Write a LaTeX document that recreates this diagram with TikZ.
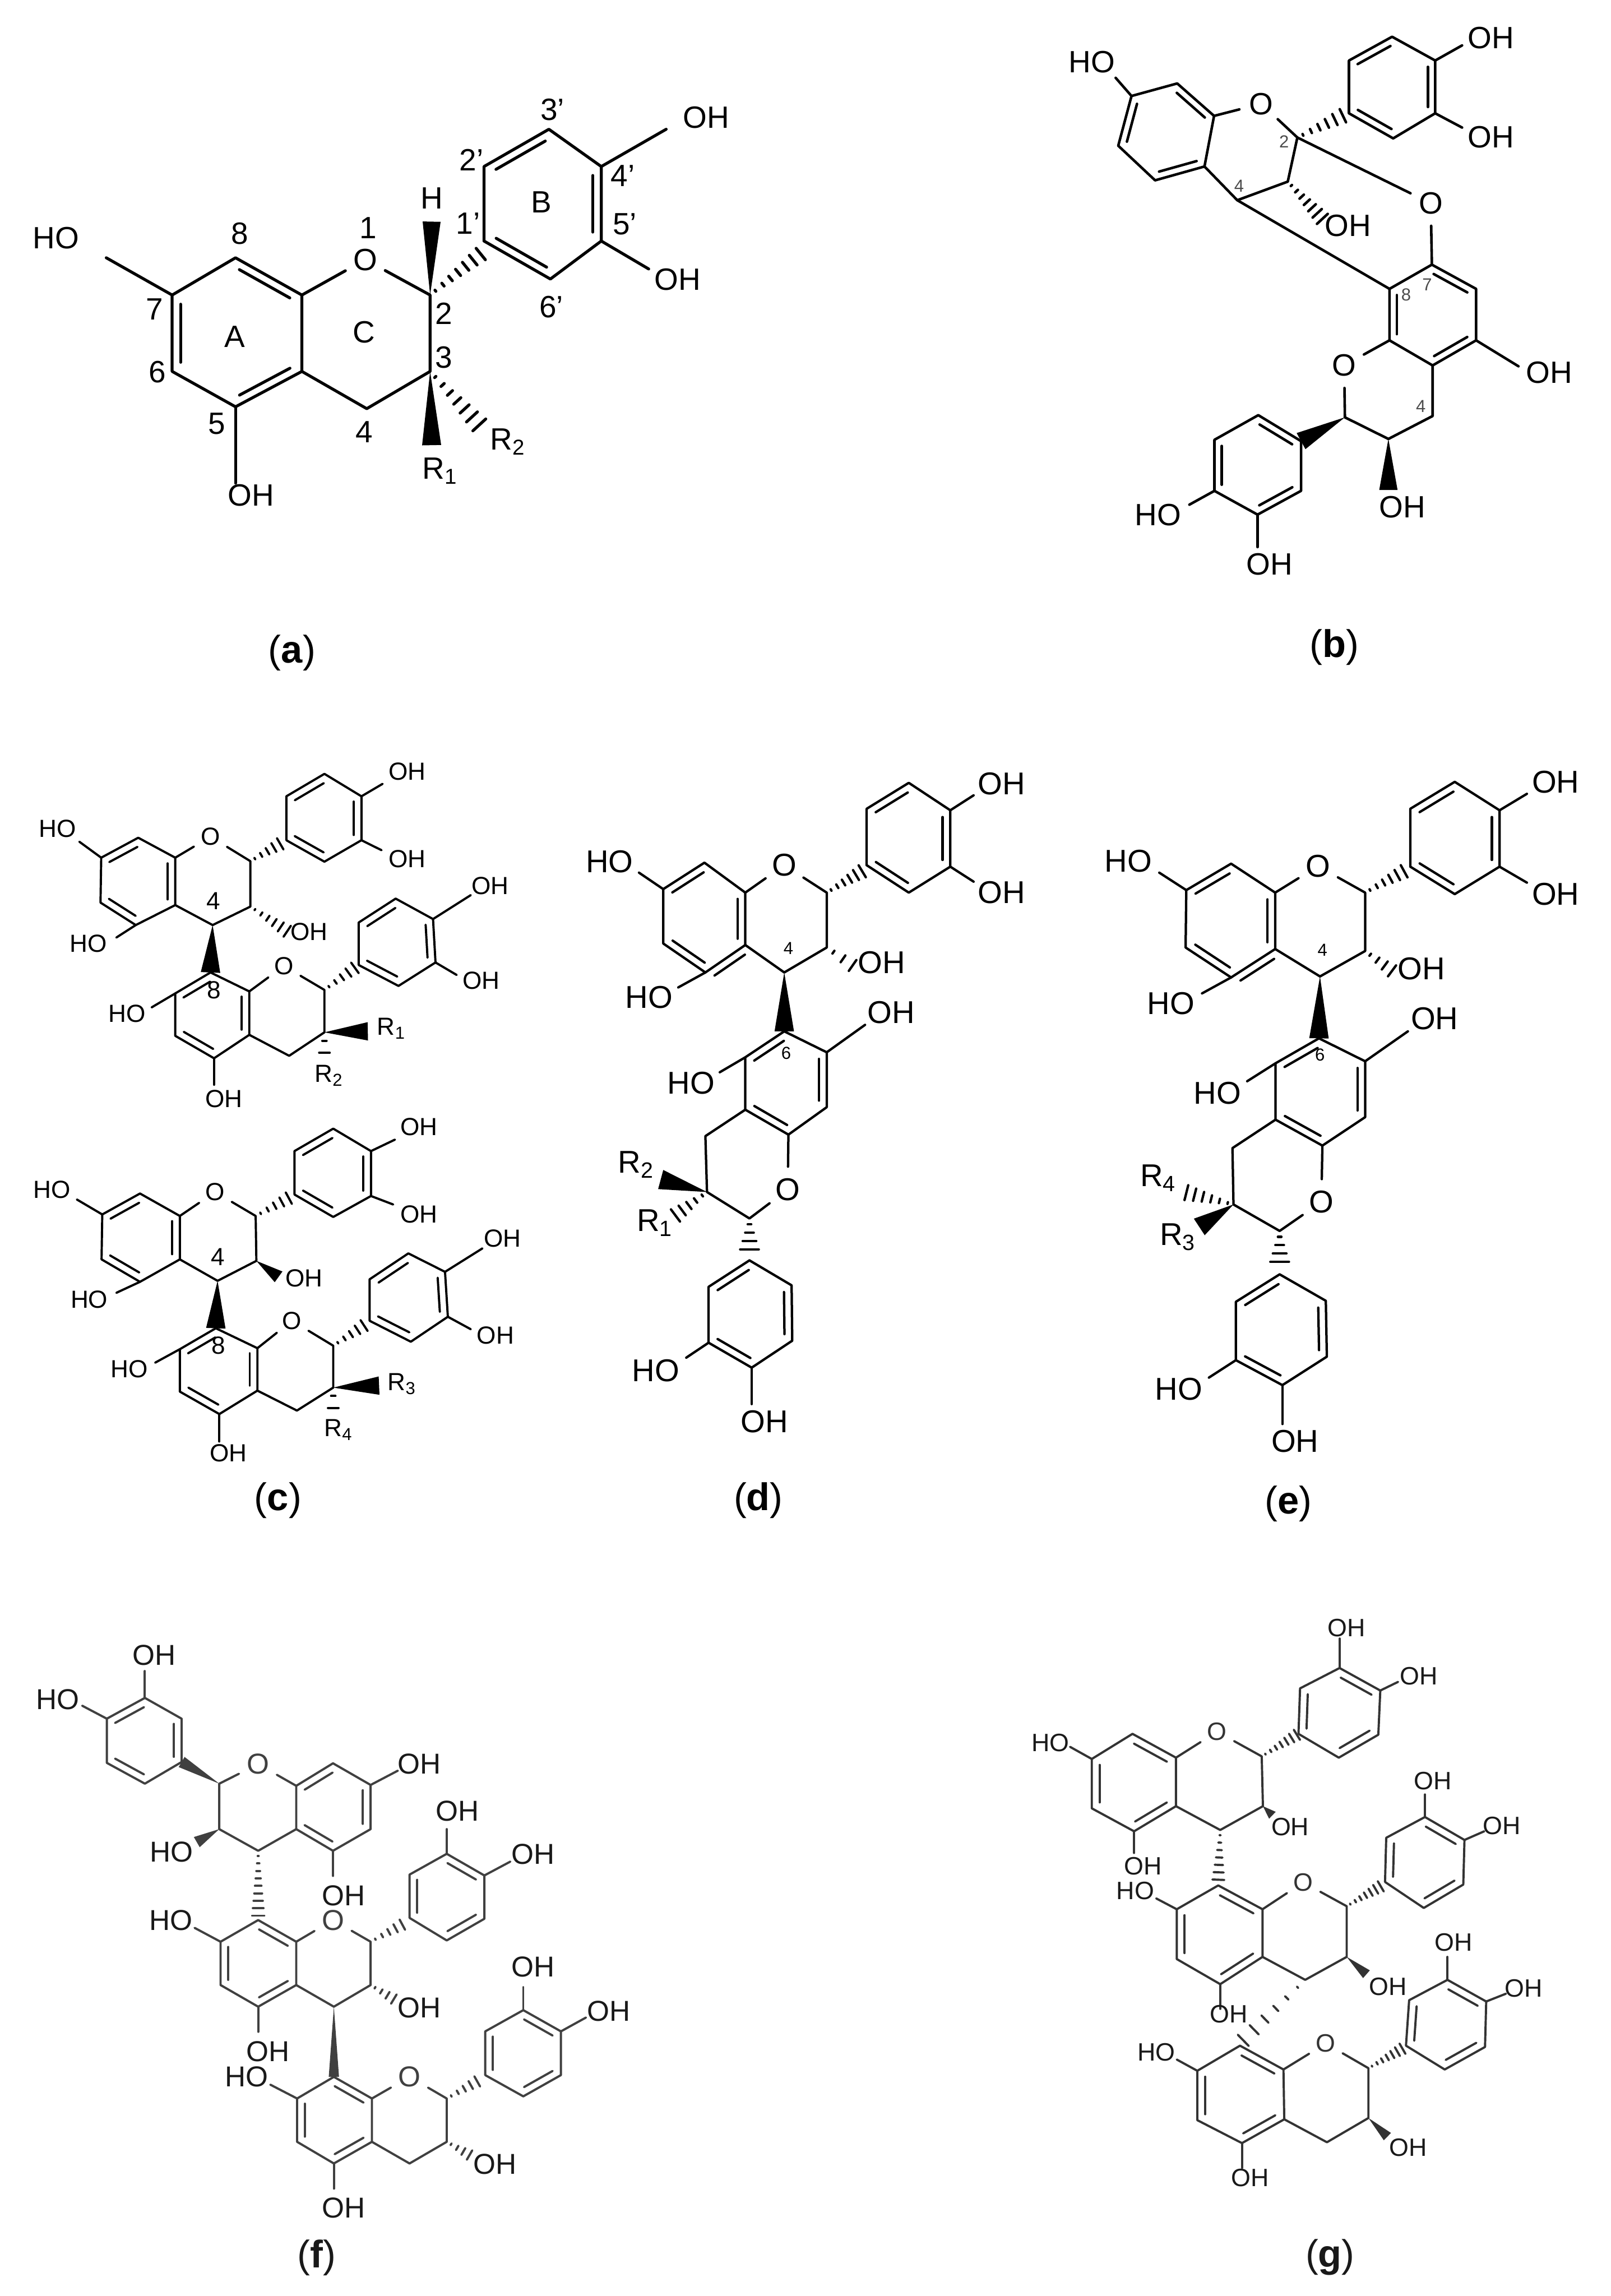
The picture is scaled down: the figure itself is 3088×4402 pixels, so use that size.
\documentclass[tikz,border=0pt]{standalone}
\usepackage{fontspec}
\usetikzlibrary{calc}
\setmainfont{Liberation Sans}
\newcommand{\fontA}{\fontsize{16.8pt}{17pt}\selectfont}
\newcommand{\fontC}{\fontsize{13.5pt}{14pt}\selectfont}
\newcommand{\fontD}{\fontsize{17.2pt}{18pt}\selectfont}
\newcommand{\fontF}{\fontsize{15.7pt}{16pt}\selectfont}
\newcommand{\fontG}{\fontsize{13.7pt}{14pt}\selectfont}
\tikzset{
	bond/.style={line cap=round, line join=round},
	lab/.style={inner sep=0pt},
	oxy/.style={circle, inner sep=2pt},
	tag/.style={inner sep=0pt, font=\fontsize{9.5pt}{10pt}\selectfont},
	captext/.style={inner sep=0pt, font=\fontsize{21pt}{22pt}\selectfont},
	mol/.style n args={5}{shift={(#1,#2)}, x=#3, y=-#4, line width=#5},
}
\newlength{\dgap}
% inner stroke of a double bond, on the left of the way a to b
\newcommand{\dbl}[1]{
	\foreach \a/\b in {#1} {
		\draw[bond] ($(\a)!.12!(\b)!\dgap!90:(\b)$) -- ($(\b)!.12!(\a)!\dgap!-90:(\a)$);
	}
}
\newcommand{\wedgebond}[3]{\fill (#1) -- ($(#2)!#3!90:(#1)$) -- ($(#2)!#3!-90:(#1)$) -- cycle;}
\newcommand{\hashbond}[4]{
	\foreach \i in {1,...,#4} {
		\pgfmathsetmacro\fr{(\i-0.3)/#4}
		\pgfmathsetmacro\hw{\fr*#3}
		\coordinate (hm) at ($(#1)!\fr!(#2)$);
		\draw[bond] ($(hm)!\hw pt!90:(#2)$) -- ($(hm)!\hw pt!-90:(#2)$);
	}
}
\begin{document}
\begin{tikzpicture}[x=0.1mm, y=-0.1mm]
	\useasboundingbox (0,0) rectangle (3088,4402);

	% flavan unit
	\begin{scope}[mol={0}{180}{0.09567mm}{0.07143mm}{1.6pt}, name prefix=a, every node/.style={font=\fontA}]
		\setlength{\dgap}{4.6pt}
		\foreach \n/\px/\py in {c7/345/540,c8/472/440,c8a/605/540,c4a/605/745,c5/472/840,c6/345/745,c2/862/540,c3/862/745,c4/735/845,p1/970/395,p2/970/195,p3/1100/95,p4/1205/195,p5/1205/395,p6/1103/497,t7/213/440,t5/472/1045,t4/1335/95,t3/1300/470,w1/865/343,w2/865/943,h1/968/425,h2/965/895}
			\coordinate (\n) at (\px,\py);
		\node[oxy] (O) at (732,445) {O};
		\draw[bond] (t7) -- (c7) -- (c8) -- (c8a) -- (c4a) -- (c5) -- (c6) -- (c7);
		\draw[bond] (c8a) -- (O) -- (c2) -- (c3) -- (c4) -- (c4a);
		\draw[bond] (c5) -- (t5);
		\draw[bond] (p1) -- (p2) -- (p3) -- (p4) -- (p5) -- (p6) -- (p1);
		\draw[bond] (p4) -- (t4);
		\draw[bond] (p5) -- (t3);
		\dbl{c7/c6,c5/c4a,c8a/c8,p3/p2,p1/p6,p5/p4}
		\wedgebond{c2}{w1}{4.9pt}
		\wedgebond{c3}{w2}{5.2pt}
		\hashbond{c2}{h1}{4.2}{7}
		\hashbond{c3}{h2}{5}{7}
		\foreach \n/\px/\py/\s in {l1/112/387/HO,l2/1415/63/OH,l3/1358/498/OH,l4/503/1078/OH,H/865/280/H,n8/480/375/8,n1/738/360/1,n1p/938/348/1',n2p/945/178/2',n3p/1107/42/3',n4p/1248/220/4',n5p/1252/350/5',n6p/1105/572/6',n2/890/590/2,n3/890/708/3,rC/730/640/C,rA/470/652/A,rB/1085/290/B,n7/310/578/7,n6/315/747/6,n5/435/885/5,n4/730/908/4}
			\node[lab] (\n) at (\px,\py) {\s};
		\node[lab] (R1) at (882,1012) {R\textsubscript{1}};
		\node[lab] (R2) at (1018,934) {R\textsubscript{2}};
		\node[captext] (cap) at (585,1500) {(\textbf{a})};
	\end{scope}

	% bridged dimer
	\begin{scope}[mol={1980}{0}{0.07066mm}{0.08291mm}{1.4pt}, name prefix=b, every node/.style={font=\fontA}]
		\setlength{\dgap}{4pt}
		\foreach \n/\px/\py in {c7/268/222,c8/392/193,c8a/492/268,c4a/466/385,c5/332/417,c6/232/337,c2/718/318,c3/692/420,c4/555/463,p1/858/262,p2/858/140,p3/975/85,p4/1092/140,p5/1092/262,p6/978/320,t1/225/180,t2/1165/105,t3/1165/295,k7/1083/612,k8/968/668,k8a/968/787,k4a/1085/845,k5/1203/787,k6/1203/668,k2/847/965,k3/965/1015,k4/1085/962,q1/728/1020,q2/612/960,q3/493/1017,q4/493/1135,q5/610/1190,q6/728/1135,t4/1318/847,t5/425/1167,t6/610/1265,h1/848/265,h2/790/510,w1/965/1133}
			\coordinate (\n) at (\px,\py);
		\node[oxy] (O1) at (620,240) {O};
		\node[oxy] (O2) at (1080,470) {O};
		\node[oxy] (O3) at (845,845) {O};
		\draw[bond] (t1) -- (c7) -- (c8) -- (c8a) -- (c4a) -- (c5) -- (c6) -- (c7);
		\draw[bond] (c8a) -- (O1) -- (c2) -- (c3) -- (c4) -- (c4a);
		\draw[bond] (p1) -- (p2) -- (p3) -- (p4) -- (p5) -- (p6) -- (p1);
		\draw[bond] (p4) -- (t2);
		\draw[bond] (p5) -- (t3);
		\draw[bond] (c2) -- (O2) -- (k7);
		\draw[bond] (c4) -- (k8);
		\draw[bond] (k7) -- (k8) -- (k8a) -- (k4a) -- (k5) -- (k6) -- (k7);
		\draw[bond] (k8a) -- (O3) -- (k2) -- (k3) -- (k4) -- (k4a);
		\draw[bond] (k5) -- (t4);
		\draw[bond] (q1) -- (q2) -- (q3) -- (q4) -- (q5) -- (q6) -- (q1);
		\draw[bond] (q4) -- (t5);
		\draw[bond] (q5) -- (t6);
		\dbl{c7/c6,c5/c4a,c8a/c8,p3/p2,p1/p6,p5/p4,k8/k8a,k4a/k5,k6/k7,q1/q2,q3/q4,q5/q6}
		\wedgebond{k2}{q1}{5pt}
		\wedgebond{k3}{w1}{5pt}
		\hashbond{c2}{h1}{4.2}{6}
		\hashbond{c3}{h2}{4.2}{7}
		\foreach \n/\px/\py/\s in {l1/160/143/HO,l2/1243/87/OH,l3/1243/317/OH,l4/855/522/OH,l5/1402/862/OH,l6/340/1190/HO,l7/642/1305/OH,l8/1003/1173/OH}
			\node[lab] (\n) at (\px,\py) {\s};
		\foreach \n/\px/\py/\s in {n2/682/327/2,n4/560/430/4,n8/1013/682/8,n7/1070/658/7,m4/1053/940/4}
			\node[tag, text=black!70] (\n) at (\px,\py) {\s};
		\node[captext] (cap) at (818,1497) {(\textbf{b})};
	\end{scope}

	% 4-8 dimer, upper one
	\begin{scope}[mol={0}{1300}{0.06761mm}{0.09567mm}{1.2pt}, name prefix=c, every node/.style={font=\fontC}]
		\setlength{\dgap}{4.2pt}
		\foreach \n/\px/\py in {c7/287/360,c8/392/320,c8a/497/360,c4a/497/455,c5/385/495,c6/285/450,c2/710/367,c3/710/458,c4/603/495,p1/812/325,p2/812/237,p3/920/192,p4/1025/237,p5/1025/325,p6/920/368,t1/225/328,t2/330/520,t3/1085/212,t4/1082/345,k8/597/590,k8a/707/628,k4a/707/715,k5/607/762,k6/497/717,k7/497/632,k2/920/625,k3/920/710,k4/820/757,t5/430/660,t6/607/815,q1/1017/575,q2/1017/490,q3/1122/442,q4/1228/483,q5/1235/570,q6/1130/617,t7/1335/435,t8/1295/595,h1/800/330,h2/820/510,h3/1012/578,h4/920/758,w1/1043/708}
			\coordinate (\n) at (\px,\py);
		\node[oxy] (O1) at (597,318) {O};
		\node[oxy] (O2) at (805,577) {O};
		\draw[bond] (t1) -- (c7) -- (c8) -- (c8a) -- (c4a) -- (c5) -- (c6) -- (c7);
		\draw[bond] (c5) -- (t2);
		\draw[bond] (c8a) -- (O1) -- (c2) -- (c3) -- (c4) -- (c4a);
		\draw[bond] (p1) -- (p2) -- (p3) -- (p4) -- (p5) -- (p6) -- (p1);
		\draw[bond] (p4) -- (t3);
		\draw[bond] (p5) -- (t4);
		\draw[bond] (t5) -- (k7) -- (k8) -- (k8a) -- (k4a) -- (k5) -- (k6) -- (k7);
		\draw[bond] (k5) -- (t6);
		\draw[bond] (k8a) -- (O2) -- (k2) -- (k3) -- (k4) -- (k4a);
		\draw[bond] (q1) -- (q2) -- (q3) -- (q4) -- (q5) -- (q6) -- (q1);
		\draw[bond] (q4) -- (t7);
		\draw[bond] (q5) -- (t8);
		\dbl{c8/c7,c6/c5,c4a/c8a,p3/p2,p1/p6,p5/p4,k8/k7,k6/k5,k4a/k8a,q3/q2,q1/q6,q5/q4}
		\wedgebond{c4}{k8}{5.3pt}
		\wedgebond{k3}{w1}{5pt}
		\hashbond{c2}{h1}{3.8}{5}
		\hashbond{c3}{h2}{3.8}{6}
		\hashbond{k2}{h3}{3.8}{5}
		\hashbond{k3}{h4}{3.4}{2}
		\foreach \n/\px/\py/\s in {l1/163/302/HO,l2/250/532/HO,l3/1155/187/OH,l4/1155/362/OH,l5/877/508/OH,l6/360/672/HO,l7/635/843/OH,l8/1390/416/OH,l9/1365/606/OH,n4/605/447/4,n8/607/625/8}
			\node[lab] (\n) at (\px,\py) {\s};
		\node[lab] (R1) at (1110,702) {R\textsubscript{1}};
		\node[lab] (R2) at (933,797) {R\textsubscript{2}};
	\end{scope}

	% 4-8 dimer, lower one
	\begin{scope}[mol={0}{1300}{0.06761mm}{0.09567mm}{1.2pt}, name prefix=e, every node/.style={font=\fontC}]
		\setlength{\dgap}{4.2pt}
		\foreach \n/\px/\py in {c7/290/1075,c8/397/1033,c8a/510/1078,c4a/510/1165,c5/397/1210,c6/288/1165,c2/725/1078,c3/727/1168,c4/617/1208,p1/835/1035,p2/835/948,p3/945/903,p4/1052/948,p5/1052/1038,p6/945/1080,t1/218/1045,t2/330/1232,t3/1120/925,t4/1115/1055,k8/612/1303,k8a/730/1343,k4a/730/1428,k5/622/1475,k6/510/1430,k7/510/1345,k2/945/1338,k3/945/1422,k4/842/1468,t5/440/1372,t6/622/1530,q1/1048/1288,q2/1048/1205,q3/1158/1153,q4/1262/1190,q5/1270/1280,q6/1165/1330,t7/1368/1143,t8/1335/1305,h1/825/1040,h3/1038/1295,h4/945/1470,w1/1075/1418,w2/790/1200}
			\coordinate (\n) at (\px,\py);
		\node[oxy] (O1) at (610,1030) {O};
		\node[oxy] (O2) at (828,1288) {O};
		\draw[bond] (t1) -- (c7) -- (c8) -- (c8a) -- (c4a) -- (c5) -- (c6) -- (c7);
		\draw[bond] (c5) -- (t2);
		\draw[bond] (c8a) -- (O1) -- (c2) -- (c3) -- (c4) -- (c4a);
		\draw[bond] (p1) -- (p2) -- (p3) -- (p4) -- (p5) -- (p6) -- (p1);
		\draw[bond] (p4) -- (t3);
		\draw[bond] (p5) -- (t4);
		\draw[bond] (t5) -- (k7) -- (k8) -- (k8a) -- (k4a) -- (k5) -- (k6) -- (k7);
		\draw[bond] (k5) -- (t6);
		\draw[bond] (k8a) -- (O2) -- (k2) -- (k3) -- (k4) -- (k4a);
		\draw[bond] (q1) -- (q2) -- (q3) -- (q4) -- (q5) -- (q6) -- (q1);
		\draw[bond] (q4) -- (t7);
		\draw[bond] (q5) -- (t8);
		\dbl{c8/c7,c6/c5,c4a/c8a,p3/p2,p1/p6,p5/p4,k8/k7,k6/k5,k4a/k8a,q3/q2,q1/q6,q5/q4}
		\wedgebond{c4}{k8}{5.3pt}
		\wedgebond{c3}{w2}{3.6pt}
		\wedgebond{k3}{w1}{5pt}
		\hashbond{c2}{h1}{3.8}{5}
		\hashbond{k2}{h3}{3.8}{5}
		\hashbond{k3}{h4}{3.4}{2}
		\foreach \n/\px/\py/\s in {l1/148/1025/HO,l2/253/1245/HO,l3/1188/900/OH,l4/1188/1075/OH,l5/862/1203/OH,l6/367/1385/HO,l7/648/1553/OH,l8/1425/1123/OH,l9/1405/1317/OH,n4/618/1160/4,n8/620/1338/8}
			\node[lab] (\n) at (\px,\py) {\s};
		\node[lab] (R3) at (1140,1415) {R\textsubscript{3}};
		\node[lab] (R4) at (960,1507) {R\textsubscript{4}};
	\end{scope}
	\node[captext] (capc) at (533,2877) {(\textbf{c})};

	% 4-6 dimer
	\begin{scope}[mol={1080}{1300}{0.06122mm}{0.09567mm}{1.3pt}, name prefix=d, every node/.style={font=\fontD}]
		\setlength{\dgap}{4.2pt}
		\foreach \n/\px/\py in {c7/313/423,c8/442/370,c8a/570/430,c4a/570/535,c5/445/590,c6/313/532,c2/825/430,c3/825/540,c4/692/590,p1/950/375,p2/950/262,p3/1082/210,p4/1212/265,p5/1212/378,p6/1082/430,t1/237/390,t2/360/620,t3/1285/235,t4/1285/408,k6/692/708,k7/825/750,k8/825/860,k8a/705/915,k4a/570/865,k5/570/760,k4/445/918,k3/450/1030,k2/583/1083,t5/945/695,t6/490/790,q1/583/1167,q2/455/1220,q3/455/1332,q4/590/1382,q5/717/1328,q6/715/1217,t7/385/1362,t8/590/1455,h1/942/385,h2/915/580,h3/345/1080,h4/583/1150,w1/305/1005}
			\coordinate (\n) at (\px,\py);
		\node[oxy] (O1) at (692,375) {O};
		\node[oxy] (O2) at (703,1025) {O};
		\draw[bond] (t1) -- (c7) -- (c8) -- (c8a) -- (c4a) -- (c5) -- (c6) -- (c7);
		\draw[bond] (c5) -- (t2);
		\draw[bond] (c8a) -- (O1) -- (c2) -- (c3) -- (c4) -- (c4a);
		\draw[bond] (p1) -- (p2) -- (p3) -- (p4) -- (p5) -- (p6) -- (p1);
		\draw[bond] (p4) -- (t3);
		\draw[bond] (p5) -- (t4);
		\draw[bond] (t6) -- (k5) -- (k6) -- (k7) -- (k8) -- (k8a) -- (k4a) -- (k5);
		\draw[bond] (k7) -- (t5);
		\draw[bond] (k4a) -- (k4) -- (k3) -- (k2) -- (O2) -- (k8a);
		\draw[bond] (q1) -- (q2) -- (q3) -- (q4) -- (q5) -- (q6) -- (q1);
		\draw[bond] (q3) -- (t7);
		\draw[bond] (q4) -- (t8);
		\dbl{c8/c7,c6/c5,c4a/c8a,c4a/c5,p3/p2,p1/p6,p5/p4,k6/k5,k4a/k8a,k8/k7,q1/q2,q3/q4,q5/q6}
		\wedgebond{c4}{k6}{5.3pt}
		\wedgebond{k3}{w1}{5.4pt}
		\hashbond{c2}{h1}{4}{6}
		\hashbond{c3}{h2}{4}{3}
		\hashbond{k3}{h3}{4.4}{5}
		\hashbond{k2}{h4}{5.5}{4}
		\foreach \n/\px/\py/\s in {l1/145/368/HO,l2/268/640/HO,l3/1373/212/OH,l4/1373/430/OH,l5/997/570/OH,l6/1027/670/OH,l7/400/812/HO,l8/290/1388/HO,l9/630/1490/OH}
			\node[lab] (\n) at (\px,\py) {\s};
		\foreach \n/\px/\py/\s in {n4/705/542/4,n6/698/752/6}
			\node[tag] (\n) at (\px,\py) {\s};
		\node[lab] (R2) at (228,975) {R\textsubscript{2}};
		\node[lab] (R1) at (287,1092) {R\textsubscript{1}};
	\end{scope}
	\node[captext] (capd) at (1454,2877) {(\textbf{d})};

	% 4-6 dimer with R3, R4
	\begin{scope}[mol={2060}{1300}{0.06556mm}{0.09567mm}{1.3pt}, name prefix=g, every node/.style={font=\fontD}]
		\setlength{\dgap}{4.2pt}
		\foreach \n/\px/\py in {c7/327/425,c8/458/372,c8a/587/430,c4a/587/543,c5/458/600,c6/325/540,c2/850/430,c3/850/547,c4/718/598,p1/982/378,p2/982/262,p3/1112/208,p4/1243/265,p5/1243/378,p6/1112/433,t1/248/390,t2/373/632,t3/1323/232,t4/1323/410,k6/715/722,k7/850/768,k8/850/880,k8a/725/937,k4a/588/885,k5/588/772,k4/462/942,k3/465/1055,k2/600/1108,t5/975/708,t6/505/808,q1/600/1195,q2/472/1250,q3/472/1367,q4/608/1417,q5/738/1360,q6/735/1248,t7/393/1402,t8/608/1495,h1/970/385,h2/935/590,h3/320/1030,h4/600/1175,w1/365/1100}
			\coordinate (\n) at (\px,\py);
		\node[oxy] (O1) at (712,377) {O};
		\node[oxy] (O2) at (722,1050) {O};
		\draw[bond] (t1) -- (c7) -- (c8) -- (c8a) -- (c4a) -- (c5) -- (c6) -- (c7);
		\draw[bond] (c5) -- (t2);
		\draw[bond] (c8a) -- (O1) -- (c2) -- (c3) -- (c4) -- (c4a);
		\draw[bond] (p1) -- (p2) -- (p3) -- (p4) -- (p5) -- (p6) -- (p1);
		\draw[bond] (p4) -- (t3);
		\draw[bond] (p5) -- (t4);
		\draw[bond] (t6) -- (k5) -- (k6) -- (k7) -- (k8) -- (k8a) -- (k4a) -- (k5);
		\draw[bond] (k7) -- (t5);
		\draw[bond] (k4a) -- (k4) -- (k3) -- (k2) -- (O2) -- (k8a);
		\draw[bond] (q1) -- (q2) -- (q3) -- (q4) -- (q5) -- (q6) -- (q1);
		\draw[bond] (q3) -- (t7);
		\draw[bond] (q4) -- (t8);
		\dbl{c8/c7,c6/c5,c4a/c8a,c4a/c5,p3/p2,p1/p6,p5/p4,k6/k5,k4a/k8a,k8/k7,q1/q2,q3/q4,q5/q6}
		\wedgebond{c4}{k6}{5.3pt}
		\wedgebond{k3}{w1}{5.4pt}
		\hashbond{c2}{h1}{4}{6}
		\hashbond{c3}{h2}{4}{4}
		\hashbond{k3}{h3}{4.4}{6}
		\hashbond{k2}{h4}{5.5}{4}
		\foreach \n/\px/\py/\s in {l1/157/367/HO,l2/282/652/HO,l3/1407/208/OH,l4/1407/433/OH,l5/1015/582/OH,l6/1053/683/OH,l7/418/832/HO,l8/305/1425/HO,l9/645/1530/OH}
			\node[lab] (\n) at (\px,\py) {\s};
		\foreach \n/\px/\py/\s in {n4/725/545/4,n6/718/755/6}
			\node[tag] (\n) at (\px,\py) {\s};
		\node[lab] (R4) at (245,1002) {R\textsubscript{4}};
		\node[lab] (R3) at (302,1120) {R\textsubscript{3}};
	\end{scope}
	\node[captext] (cape) at (2470,2883) {(\textbf{e})};

	% trimer, grey print
	\begin{scope}[mol={0}{3100}{0.08291mm}{0.08304mm}{1.2pt}, name prefix=f, every node/.style={font=\fontF}, black!75]
		\setlength{\dgap}{4.2pt}
		\foreach \n/\px/\py in {A1/420/335,A2/420/235,A3/335/187,A4/247/235,A5/247/337,A6/335/385,t1/335/125,t2/190/205,c2/507/385,c8a/685/390,c8/770/338,c7/857/388,c6/857/490,c5/770/540,c4a/685/490,c4/597/540,c3/507/490,t3/920/355,t4/770/598,w1/455/520,h0/597/695,m8/597/700,m7/510/750,m6/510/850,m5/597/900,m4a/685/850,m8a/685/750,t5/450/718,t6/597/958,m2/857/750,m3/857/850,m4/772/900,h1/935/708,B1/947/695,B2/947/595,B3/1033/547,B4/1120/597,B5/1120/697,B6/1033/747,t7/1033/490,t8/1180/565,h2/915/885,n8/772/1062,n7/687/1112,n6/687/1212,n5/772/1262,n4a/860/1212,n8a/860/1112,t9/625/1080,t10/772/1320,n2/1033/1112,n3/1033/1212,n4/947/1262,h3/1108/1070,C1/1122/1058,C2/1122/957,C3/1210/908,C4/1297/957,C5/1297/1058,C6/1210/1107,t11/1210/855,t12/1355/925,h4/1090/1245}
			\coordinate (\n) at (\px,\py);
		\node[oxy] (O1) at (597,340) {O};
		\node[oxy] (O2) at (770,700) {O};
		\node[oxy] (O3) at (947,1062) {O};
		\draw[bond] (A1) -- (A2) -- (A3) -- (A4) -- (A5) -- (A6) -- (A1);
		\draw[bond] (A3) -- (t1);
		\draw[bond] (A4) -- (t2);
		\draw[bond] (c3) -- (c2) -- (O1) -- (c8a) -- (c8) -- (c7) -- (c6) -- (c5) -- (c4a) -- (c8a);
		\draw[bond] (c7) -- (t3);
		\draw[bond] (c5) -- (t4);
		\draw[bond] (c3) -- (c4) -- (c4a);
		\draw[bond] (t5) -- (m7) -- (m8) -- (m8a) -- (m4a) -- (m5) -- (m6) -- (m7);
		\draw[bond] (m5) -- (t6);
		\draw[bond] (m8a) -- (O2) -- (m2) -- (m3) -- (m4) -- (m4a);
		\draw[bond] (B1) -- (B2) -- (B3) -- (B4) -- (B5) -- (B6) -- (B1);
		\draw[bond] (B3) -- (t7);
		\draw[bond] (B4) -- (t8);
		\draw[bond] (t9) -- (n7) -- (n8) -- (n8a) -- (n4a) -- (n5) -- (n6) -- (n7);
		\draw[bond] (n5) -- (t10);
		\draw[bond] (n8a) -- (O3) -- (n2) -- (n3) -- (n4) -- (n4a);
		\draw[bond] (C1) -- (C2) -- (C3) -- (C4) -- (C5) -- (C6) -- (C1);
		\draw[bond] (C3) -- (t11);
		\draw[bond] (C4) -- (t12);
		\dbl{A3/A4,A5/A6,A1/A2,c8/c8a,c4a/c5,c6/c7,m7/m6,m5/m4a,m8a/m8,B2/B1,B6/B5,B4/B3,n7/n6,n5/n4a,n8a/n8,C2/C1,C6/C5,C4/C3}
		\wedgebond{c2}{A1}{3.2pt}
		\wedgebond{c3}{w1}{3.2pt}
		\wedgebond{m4}{n8}{2.8pt}
		\hashbond{c4}{h0}{3.4}{9}
		\hashbond{m2}{h1}{3.4}{5}
		\hashbond{m3}{h2}{3.2}{4}
		\hashbond{n2}{h3}{3.4}{5}
		\hashbond{n3}{h4}{3.2}{4}
		\foreach \n/\px/\py/\s in {l1/357/88/OH,l2/133/190/HO,l3/970/340/OH,l4/795/643/OH,l5/397/543/HO,l6/395/700/HO,l7/620/1003/OH,l8/1058/448/OH,l9/1233/548/OH,l10/970/903/OH,l11/570/1062/HO,l12/795/1365/OH,l13/1233/808/OH,l14/1408/910/OH,l15/1145/1263/OH}
			\node[lab, text=black!90] (\n) at (\px,\py) {\s};
		\node[captext, text=black!90] (cap) at (732,1480) {(\textbf{f})};
	\end{scope}

	% trimer, lower right
	\begin{scope}[mol={1900}{3100}{0.07577mm}{0.08304mm}{1.2pt}, name prefix=h, every node/.style={font=\fontG}, black!80]
		\setlength{\dgap}{4.3pt}
		\foreach \n/\px/\py in {c7/255/328,c8/358/270,c8a/468/325,c4a/468/437,c5/362/495,c6/255/442,t1/200/300,t2/362/545,c2/685/322,c3/688/437,c4/580/492,w1/712/458,h1/778/270,A1/778/270,A2/782/165,A3/882/118,A4/985/170,A5/980/272,A6/880/325,t3/882/50,t4/1030/150,h0/575/612,m8/575/620,m7/470/675,m6/470/790,m5/580/848,m4a/687/785,m8a/687/675,t5/418/650,t6/580/905,m2/900/668,m3/900/785,m4/795/838,h2/990/620,B1/997/612,B2/1000/510,B3/1098/462,B4/1198/515,B5/1195/618,B6/1095/672,t7/1098/410,t8/1248/495,w2/950/825,h3/630/985,n8/630/990,n7/522/1048,n6/522/1162,n5/635/1215,n4a/742/1160,n8a/740/1045,t9/470/1022,t10/635/1272,n2/955/1042,n3/955/1157,n4/850/1213,w3/1003/1200,h4/1045/995,C1/1050/990,C2/1058/885,C3/1155/838,C4/1253/888,C5/1250/993,C6/1148/1045,t11/1155/785,t12/1303/870}
			\coordinate (\n) at (\px,\py);
		\node[oxy] (O1) at (572,265) {O};
		\node[oxy] (O2) at (790,613) {O};
		\node[oxy] (O3) at (847,985) {O};
		\draw[bond] (t1) -- (c7) -- (c8) -- (c8a) -- (c4a) -- (c5) -- (c6) -- (c7);
		\draw[bond] (c5) -- (t2);
		\draw[bond] (c8a) -- (O1) -- (c2) -- (c3) -- (c4) -- (c4a);
		\draw[bond] (A1) -- (A2) -- (A3) -- (A4) -- (A5) -- (A6) -- (A1);
		\draw[bond] (A3) -- (t3);
		\draw[bond] (A4) -- (t4);
		\draw[bond] (t5) -- (m7) -- (m8) -- (m8a) -- (m4a) -- (m5) -- (m6) -- (m7);
		\draw[bond] (m5) -- (t6);
		\draw[bond] (m8a) -- (O2) -- (m2) -- (m3) -- (m4) -- (m4a);
		\draw[bond] (B1) -- (B2) -- (B3) -- (B4) -- (B5) -- (B6) -- (B1);
		\draw[bond] (B3) -- (t7);
		\draw[bond] (B4) -- (t8);
		\draw[bond] (t9) -- (n7) -- (n8) -- (n8a) -- (n4a) -- (n5) -- (n6) -- (n7);
		\draw[bond] (n5) -- (t10);
		\draw[bond] (n8a) -- (O3) -- (n2) -- (n3) -- (n4) -- (n4a);
		\draw[bond] (C1) -- (C2) -- (C3) -- (C4) -- (C5) -- (C6) -- (C1);
		\draw[bond] (C3) -- (t11);
		\draw[bond] (C4) -- (t12);
		\dbl{c7/c6,c5/c4a,c8a/c8,A2/A1,A6/A5,A4/A3,m7/m6,m5/m4a,m8a/m8,B2/B1,B6/B5,B4/B3,n7/n6,n5/n4a,n8a/n8,C2/C1,C6/C5,C4/C3}
		\wedgebond{c3}{w1}{2.6pt}
		\wedgebond{m3}{w2}{2.8pt}
		\wedgebond{n3}{w3}{2.8pt}
		\hashbond{c2}{h1}{3.4}{7}
		\hashbond{c4}{h0}{3.4}{7}
		\hashbond{m2}{h2}{3.4}{7}
		\hashbond{m4}{h3}{4.5}{6}
		\hashbond{n2}{h4}{3.4}{7}
		\foreach \n/\px/\py/\s in {l1/150/290/HO,l2/385/575/OH,l3/757/485/OH,l4/900/25/OH,l5/1082/137/OH,l6/365/632/HO,l7/602/917/OH,l8/1118/378/OH,l9/1292/482/OH,l10/1005/853/OH,l11/418/1005/HO,l12/655/1295/OH,l13/1055/1225/OH,l14/1170/752/OH,l15/1348/857/OH}
			\node[lab, text=black!90] (\n) at (\px,\py) {\s};
		\node[captext, text=black!90] (cap) at (858,1478) {(\textbf{g})};
	\end{scope}
\end{tikzpicture}
\end{document}
